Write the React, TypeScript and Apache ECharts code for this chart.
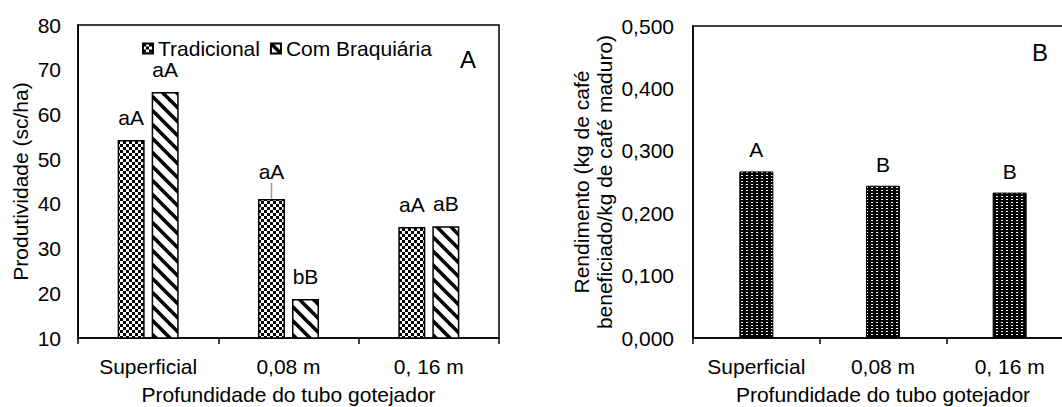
import React, { useEffect, useRef } from 'react';
import * as echarts from 'echarts';

// ---------- data ----------
const categories = ['Superficial', '0,08 m', '0, 16 m'];
const tradicional = [54.3, 41.1, 34.8];
const braquiaria = [65.0, 18.7, 35.0];
const tradicionalLetters = ['aA', 'aA', 'aA'];
const braquiariaLetters = ['aA', 'bB', 'aB'];
// [categoryIndex, bar top, error bar top] – only one error bar is visible
const tradicionalError = [[1, 41.1, 44.7]];
const rendimento = [0.267, 0.244, 0.233];
const rendimentoLetters = ['A', 'B', 'B'];

const seriesNames = ['Tradicional', 'Com Braquiária'];
const xTitle = 'Profundidade do tubo gotejador';
const yTitleLeft = 'Produtividade (sc/ha)';
const yTitleRight = 'Rendimento (kg de café\nbeneficiado/kg de café maduro)';
const panelLetters = ['A', 'B'];

const FONT = '"Liberation Sans", Arial, sans-serif';
const FS = 21;

function makeChecker() {
  const c = document.createElement('canvas');
  c.width = 6; c.height = 6;
  const g = c.getContext('2d')!;
  g.fillStyle = '#fff'; g.fillRect(0, 0, 6, 6);
  g.fillStyle = '#000';
  g.fillRect(0, 0, 3, 3);
  g.fillRect(3, 3, 3, 3);
  return { image: c, repeat: 'repeat', imageWidth: 6, imageHeight: 6 };
}

function makeStripes() {
  const s = 14;
  const c = document.createElement('canvas');
  c.width = s; c.height = s;
  const g = c.getContext('2d')!;
  g.fillStyle = '#fff'; g.fillRect(0, 0, s, s);
  g.strokeStyle = '#000';
  g.lineWidth = 3.6;
  for (const o of [-s, 0, s]) {
    g.beginPath();
    g.moveTo(o - 2, -2);
    g.lineTo(o + s + 2, s + 2);
    g.stroke();
  }
  return { image: c, repeat: 'repeat', imageWidth: s, imageHeight: s };
}

function makeDots() {
  const c = document.createElement('canvas');
  c.width = 5; c.height = 3;
  const g = c.getContext('2d')!;
  g.fillStyle = '#000'; g.fillRect(0, 0, 5, 3);
  g.fillStyle = '#fff';
  g.fillRect(1, 1, 2, 1);
  return { image: c, repeat: 'repeat', imageWidth: 5, imageHeight: 3 };
}

export default function App() {
  const ref = useRef<HTMLDivElement>(null);

  useEffect(() => {
    if (!ref.current) return;
    const chart = echarts.init(ref.current, undefined, { renderer: 'svg' });
    const checker = makeChecker();
    const stripes = makeStripes();
    const dots = makeDots();

    const axisLine = { show: true, lineStyle: { color: '#000', width: 1.5 } };
    const labelStyle = { fontSize: FS, color: '#000', fontFamily: FONT };

    const option: any = {
      animation: false,
      textStyle: { fontFamily: FONT, color: '#000' },
      grid: [
        { left: 78, top: 25, width: 421, height: 313, show: true, borderColor: '#000', borderWidth: 1.5, backgroundColor: 'transparent', containLabel: false, outerBoundsMode: 'none' },
        { left: 693, top: 26, width: 380, height: 312, show: true, borderColor: '#000', borderWidth: 1.5, backgroundColor: 'transparent', containLabel: false, outerBoundsMode: 'none' },
      ],
      legend: {
        data: seriesNames,
        left: 142,
        top: 38,
        padding: 0,
        itemWidth: 10,
        itemHeight: 10,
        itemGap: 10,
        icon: 'rect',
        textStyle: { ...labelStyle },
      },
      xAxis: [0, 1].map((gi) => ({
        type: 'category',
        gridIndex: gi,
        data: categories,
        axisLine,
        axisTick: { show: true, length: 6, lineStyle: { color: '#000', width: 1.5 } },
        axisLabel: { ...labelStyle, margin: 18, interval: 0, hideOverlap: false },
        splitLine: { show: false },
        name: xTitle,
        nameLocation: 'middle',
        nameGap: 46,
        nameTextStyle: { ...labelStyle },
      })),
      yAxis: [
        {
          type: 'value',
          gridIndex: 0,
          min: 10,
          max: 80,
          interval: 10,
          axisLine,
          axisTick: { show: false },
          splitLine: { show: false },
          axisLabel: { ...labelStyle, margin: 17 },
          name: yTitleLeft,
          nameLocation: 'middle',
          nameGap: 47,
          nameTextStyle: { ...labelStyle },
        },
        {
          type: 'value',
          gridIndex: 1,
          min: 0,
          max: 0.5,
          interval: 0.1,
          axisLine,
          axisTick: { show: false },
          splitLine: { show: false },
          axisLabel: {
            ...labelStyle,
            margin: 19,
            formatter: (v: number) => v.toFixed(3).replace('.', ','),
          },
          name: yTitleRight,
          nameLocation: 'middle',
          nameGap: 77,
          nameTextStyle: { ...labelStyle, lineHeight: 23 },
        },
      ],
      series: [
        {
          name: seriesNames[0],
          type: 'bar',
          xAxisIndex: 0,
          yAxisIndex: 0,
          barWidth: 27,
          barGap: '26%',
          data: tradicional.map((v, i) =>
            i === 1 ? { value: v, label: { distance: 17 } } : { value: v }
          ),
          itemStyle: { color: checker, borderColor: '#000', borderWidth: 1.5 },
          label: {
            show: true,
            position: 'top',
            distance: 12,
            ...labelStyle,
            formatter: (p: any) => tradicionalLetters[p.dataIndex],
          },
        },
        {
          name: seriesNames[1],
          type: 'bar',
          xAxisIndex: 0,
          yAxisIndex: 0,
          barWidth: 27,
          barGap: '26%',
          data: braquiaria,
          itemStyle: { color: stripes, borderColor: '#000', borderWidth: 1.5 },
          label: {
            show: true,
            position: 'top',
            distance: 12,
            ...labelStyle,
            formatter: (p: any) => braquiariaLetters[p.dataIndex],
          },
        },
        {
          type: 'custom',
          xAxisIndex: 0,
          yAxisIndex: 0,
          data: tradicionalError,
          z: 1,
          renderItem: (params: any, api: any) => {
            const p1 = api.coord([api.value(0), api.value(1)]);
            const p2 = api.coord([api.value(0), api.value(2)]);
            const off = -17;
            return {
              type: 'line',
              shape: { x1: p1[0] + off, y1: p1[1], x2: p2[0] + off, y2: p2[1] },
              style: { stroke: '#9a9a9a', lineWidth: 1.5 },
            };
          },
        },
        {
          name: 'Rendimento',
          type: 'bar',
          xAxisIndex: 1,
          yAxisIndex: 1,
          barWidth: 34,
          data: rendimento,
          itemStyle: { color: dots, borderColor: '#000', borderWidth: 1 },
          label: {
            show: true,
            position: 'top',
            distance: 11,
            ...labelStyle,
            formatter: (p: any) => rendimentoLetters[p.dataIndex],
          },
        },
      ],
      graphic: [
        {
          type: 'text',
          x: 468,
          y: 59,
          style: { text: panelLetters[0], font: `24px ${FONT}`, fill: '#000', textAlign: 'center', textVerticalAlign: 'middle' },
        },
        {
          type: 'text',
          x: 1040,
          y: 52,
          style: { text: panelLetters[1], font: `24px ${FONT}`, fill: '#000', textAlign: 'center', textVerticalAlign: 'middle' },
        },
      ],
    };

    chart.setOption(option);
    return () => chart.dispose();
  }, []);

  return (
    <div
      ref={ref}
      style={{ position: 'fixed', left: 0, top: 0, width: 1062, height: 407, background: '#fff' }}
    />
  );
}
